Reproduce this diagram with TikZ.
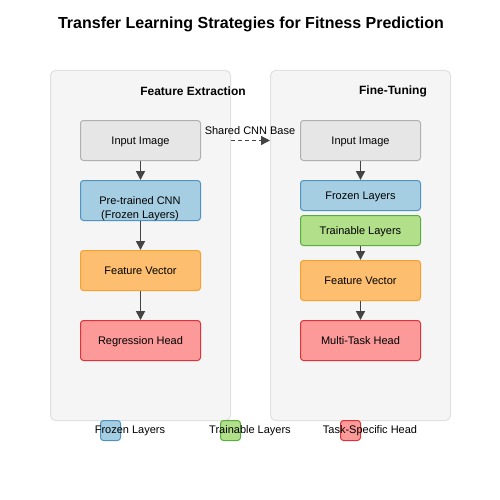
\documentclass[tikz,border=0pt]{standalone}
\usepackage{fontspec}
\setmainfont{Liberation Sans}
\usetikzlibrary{arrows.meta}
\definecolor{panelfill}{HTML}{F5F5F5}
\definecolor{paneldraw}{HTML}{E0E0E0}
\definecolor{grayfill}{HTML}{E6E6E6}
\definecolor{graydraw}{HTML}{B0B0B0}
\definecolor{bluefill}{HTML}{A6CEE3}
\definecolor{bluedraw}{HTML}{4F93C3}
\definecolor{greenfill}{HTML}{B2DF8A}
\definecolor{greendraw}{HTML}{5AAE3F}
\definecolor{orangefill}{HTML}{FDBF6F}
\definecolor{orangedraw}{HTML}{F5A030}
\definecolor{redfill}{HTML}{FB9A99}
\definecolor{reddraw}{HTML}{E0323A}
\definecolor{arrowcol}{HTML}{444444}
\tikzset{
  panel/.style={draw=paneldraw, fill=panelfill, rounded corners=5pt, line width=1pt, minimum width=180pt, minimum height=350pt, anchor=north west, inner sep=0pt},
  box/.style={rounded corners=3pt, line width=1pt, minimum width=120pt, anchor=north west, inner sep=0pt, font=\fontsize{11}{13}\selectfont, text=black, text depth=0pt},
  graybox/.style={box, draw=graydraw, fill=grayfill},
  bluebox/.style={box, draw=bluedraw, fill=bluefill},
  greenbox/.style={box, draw=greendraw, fill=greenfill},
  orangebox/.style={box, draw=orangedraw, fill=orangefill},
  redbox/.style={box, draw=reddraw, fill=redfill},
  flow/.style={draw=arrowcol, line width=1.6pt, -{Triangle[length=9pt,width=9pt]}},
  ptitle/.style={font=\fontsize{12}{14}\selectfont\bfseries},
  lgsq/.style={rounded corners=3pt, line width=1pt, minimum width=20pt, minimum height=20pt, anchor=north west, inner sep=0pt},
  lgtext/.style={font=\fontsize{11}{13}\selectfont},
}
\begin{document}
\begin{tikzpicture}[x=1pt,y=-1pt]
\useasboundingbox (0,0) rectangle (500,500);
\node[font=\fontsize{16}{19}\selectfont\bfseries] (title) at (251,24) {Transfer Learning Strategies for Fitness Prediction};
% panels
\node[panel] (lp) at (50,70) {};
\node[panel] (rp) at (270,70) {};
\node[ptitle] (lt) at (193,91) {Feature Extraction};
\node[ptitle] (rt) at (393,91) {Fine-Tuning};
% left column
\node[graybox, minimum height=40pt] (li) at (80,120) {Input Image};
\node[bluebox, minimum height=40pt] (lc) at (80,180) {};
\node[font=\fontsize{11}{14}\selectfont, align=center] (lct) at (140,208.5) {Pre-trained CNN\\(Frozen Layers)};
\node[orangebox, minimum height=40pt] (lf) at (80,250) {Feature Vector};
\node[redbox, minimum height=40pt] (lr) at (80,320) {Regression Head};
\draw[flow] (li.south) -- (lc.north);
\draw[flow] (lc.south) -- (lf.north);
\draw[flow] (lf.south) -- (lr.north);
% right column
\node[graybox, minimum height=40pt] (ri) at (300,120) {Input Image};
\node[bluebox, minimum height=30pt] (rz) at (300,180) {Frozen Layers};
\node[greenbox, minimum height=30pt] (rtl) at (300,215) {Trainable Layers};
\node[orangebox, minimum height=40pt] (rf) at (300,260) {Feature Vector};
\node[redbox, minimum height=40pt] (rm) at (300,320) {Multi-Task Head};
\draw[flow] (ri.south) -- (rz.north);
\draw[flow] (rtl.south) -- (rf.north);
\draw[flow] (rf.south) -- (rm.north);
% shared
\coordinate (sa) at (lp.east |- li.center);
\coordinate (sb) at (rp.west |- ri.center);
\draw[draw=arrowcol, line width=1.3pt, dash pattern=on 4pt off 3pt, -{Triangle[length=9pt,width=9pt]}] (sa) -- (sb);
\node[lgtext] (sl) at (250,131) {Shared CNN Base};
% legend
\node[lgsq, draw=bluedraw, fill=bluefill] (lg1) at (100,420) {};
\node[lgsq, draw=greendraw, fill=greenfill] (lg2) at (220,420) {};
\node[lgsq, draw=reddraw, fill=redfill] (lg3) at (340,420) {};
\node[lgtext] (lg1t) at (130,431) {Frozen Layers};
\node[lgtext] (lg2t) at (250,431) {Trainable Layers};
\node[lgtext] (lg3t) at (370,431) {Task-Specific Head};
\end{tikzpicture}
\end{document}
